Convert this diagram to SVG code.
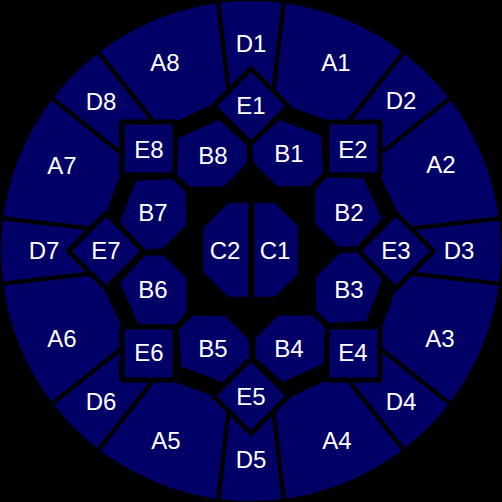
<svg xmlns="http://www.w3.org/2000/svg" xmlns:xlink="http://www.w3.org/1999/xlink" width="502" height="502" viewBox="0 0 502 502">
<style>
.r{fill:#000066;stroke:#000;stroke-width:4.2;stroke-linejoin:round}
.e{fill:#000066;stroke:#000;stroke-width:5;stroke-linejoin:round}
.b{fill:#000066}
text{font-family:"Liberation Sans",Arial,sans-serif;font-size:24px;fill:#fff;text-anchor:middle}
</style>
<defs>
<clipPath id="disc"><circle cx="251" cy="251" r="250"/></clipPath>
<polygon id="dS" points="216.9,-10 285.1,-10 273.6,91.1 251,68.5 228.4,91.1"/>
<polygon id="aS" points="285.1,-10 273.6,91.1 288.5,106 289,108.5 327,122 348.1,121.9 411.4,42.3 380,-30"/>
<polygon id="eS" points="251,68.5 288.5,106 251,143.5 213.5,106"/>
<polygon id="bS" points="252.3,145.3 279.5,119.9 321,135.8 322.9,172.7 309.7,185.9 277.3,186.2 253.5,162.4"/>
</defs>
<rect width="502" height="502" fill="#000"/>
<g id="outer">
<g id="D1"><use href="#dS" xlink:href="#dS" class="r" clip-path="url(#disc)"/><text x="251" y="52">D1</text></g>
<g id="D2"><use href="#dS" xlink:href="#dS" class="r" clip-path="url(#disc)" transform="rotate(45 251 251)"/><text x="401" y="109">D2</text></g>
<g id="D3"><use href="#dS" xlink:href="#dS" class="r" clip-path="url(#disc)" transform="rotate(90 251 251)"/><text x="459" y="259">D3</text></g>
<g id="D4"><use href="#dS" xlink:href="#dS" class="r" clip-path="url(#disc)" transform="rotate(135 251 251)"/><text x="401" y="410">D4</text></g>
<g id="D5"><use href="#dS" xlink:href="#dS" class="r" clip-path="url(#disc)" transform="rotate(180 251 251)"/><text x="251" y="468">D5</text></g>
<g id="D6"><use href="#dS" xlink:href="#dS" class="r" clip-path="url(#disc)" transform="rotate(225 251 251)"/><text x="101" y="410">D6</text></g>
<g id="D7"><use href="#dS" xlink:href="#dS" class="r" clip-path="url(#disc)" transform="rotate(270 251 251)"/><text x="44" y="259">D7</text></g>
<g id="D8"><use href="#dS" xlink:href="#dS" class="r" clip-path="url(#disc)" transform="rotate(315 251 251)"/><text x="101" y="110">D8</text></g>
<g id="A1"><use href="#aS" xlink:href="#aS" class="r" clip-path="url(#disc)"/><text x="336" y="71">A1</text></g>
<g id="A2"><use href="#aS" xlink:href="#aS" class="r" clip-path="url(#disc)" transform="rotate(45 251 251)"/><text x="441" y="173">A2</text></g>
<g id="A3"><use href="#aS" xlink:href="#aS" class="r" clip-path="url(#disc)" transform="rotate(90 251 251)"/><text x="440" y="347">A3</text></g>
<g id="A4"><use href="#aS" xlink:href="#aS" class="r" clip-path="url(#disc)" transform="rotate(135 251 251)"/><text x="337" y="449">A4</text></g>
<g id="A5"><use href="#aS" xlink:href="#aS" class="r" clip-path="url(#disc)" transform="rotate(180 251 251)"/><text x="166" y="449">A5</text></g>
<g id="A6"><use href="#aS" xlink:href="#aS" class="r" clip-path="url(#disc)" transform="rotate(225 251 251)"/><text x="62" y="347">A6</text></g>
<g id="A7"><use href="#aS" xlink:href="#aS" class="r" clip-path="url(#disc)" transform="rotate(270 251 251)"/><text x="62" y="174">A7</text></g>
<g id="A8"><use href="#aS" xlink:href="#aS" class="r" clip-path="url(#disc)" transform="rotate(315 251 251)"/><text x="165" y="71">A8</text></g>
</g>
<g id="ering">
<g id="E1"><use href="#eS" xlink:href="#eS" class="e"/><text x="251" y="114">E1</text></g>
<g id="E2"><use href="#eS" xlink:href="#eS" class="e" transform="rotate(45 251 251)"/><text x="353" y="158">E2</text></g>
<g id="E3"><use href="#eS" xlink:href="#eS" class="e" transform="rotate(90 251 251)"/><text x="396" y="259">E3</text></g>
<g id="E4"><use href="#eS" xlink:href="#eS" class="e" transform="rotate(135 251 251)"/><text x="353" y="361">E4</text></g>
<g id="E5"><use href="#eS" xlink:href="#eS" class="e" transform="rotate(180 251 251)"/><text x="251" y="405">E5</text></g>
<g id="E6"><use href="#eS" xlink:href="#eS" class="e" transform="rotate(225 251 251)"/><text x="149" y="361">E6</text></g>
<g id="E7"><use href="#eS" xlink:href="#eS" class="e" transform="rotate(270 251 251)"/><text x="106" y="259">E7</text></g>
<g id="E8"><use href="#eS" xlink:href="#eS" class="e" transform="rotate(315 251 251)"/><text x="149" y="158">E8</text></g>
</g>
<g id="bring">
<g id="B1"><use href="#bS" xlink:href="#bS" class="b"/><text x="289" y="162">B1</text></g>
<g id="B2"><use href="#bS" xlink:href="#bS" class="b" transform="rotate(45 251 251)"/><text x="349" y="221">B2</text></g>
<g id="B3"><use href="#bS" xlink:href="#bS" class="b" transform="rotate(90 251 251)"/><text x="349" y="298">B3</text></g>
<g id="B4"><use href="#bS" xlink:href="#bS" class="b" transform="rotate(135 251 251)"/><text x="289" y="357">B4</text></g>
<g id="B5"><use href="#bS" xlink:href="#bS" class="b" transform="rotate(180 251 251)"/><text x="213" y="357">B5</text></g>
<g id="B6"><use href="#bS" xlink:href="#bS" class="b" transform="rotate(225 251 251)"/><text x="153" y="298">B6</text></g>
<g id="B7"><use href="#bS" xlink:href="#bS" class="b" transform="rotate(270 251 251)"/><text x="153" y="221">B7</text></g>
<g id="B8"><use href="#bS" xlink:href="#bS" class="b" transform="rotate(315 251 251)"/><text x="213" y="164">B8</text></g>
</g>
<g id="core">
<g id="C2"><polygon class="b" points="228.3,203.3 248.3,203.3 248.3,296.7 228.3,296.7 203.3,271.7 203.3,228.3"/><text x="225" y="259">C2</text></g>
<g id="C1"><polygon class="b" points="254.3,203.3 275,203.3 298.3,226.7 298.3,273.3 275,296.7 254.3,296.7"/><text x="275" y="259">C1</text></g>
</g>
</svg>
